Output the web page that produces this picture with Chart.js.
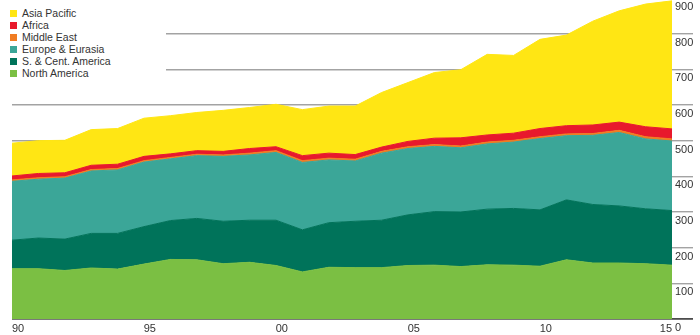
<!DOCTYPE html>
<html lang="en">
<head>
    <meta charset="UTF-8">
    <title>Production by region</title>
    <script src="https://cdn.jsdelivr.net/npm/chart.js"></script>
    <style>
        body {
            margin: 0;
            padding: 0;
            background: #fff;
            font-family: "Liberation Sans", Arial, sans-serif;
        }
        .wrap {
            position: relative;
            width: 700px;
            height: 335px;
            overflow: hidden;
        }
        #chart {
            position: absolute;
            left: 0;
            top: -2px; /* lets the 900 line sit just above the picture */
        }
        .legend {
            position: absolute;
            left: 0;
            top: 0;
            width: 166px;
            height: 88px;
            background: #fff; /* hides the grid lines behind the legend */
            padding-top: 7px;
            box-sizing: border-box;
        }
        .legend div {
            height: 12px;
            line-height: 12px;
            font-size: 10.5px;
            color: #333;
            padding-left: 22px;
            position: relative;
            white-space: nowrap;
        }
        .legend span {
            position: absolute;
            left: 10px;
            top: 2.5px;
            width: 7px;
            height: 7px;
        }
    </style>
</head>
<body>
<div class="wrap">
    <canvas id="chart" width="700" height="337"></canvas>
    <div class="legend" id="legend"></div>
</div>
<script>
    // years on the x axis
    const years = [1990, 1991, 1992, 1993, 1994, 1995, 1996, 1997, 1998, 1999,
                   2000, 2001, 2002, 2003, 2004, 2005, 2006, 2007, 2008, 2009,
                   2010, 2011, 2012, 2013, 2014, 2015];

    // values, bottom layer first
    const northAmerica = [141, 141, 136, 143, 140, 154, 167, 166, 155, 159,
                          150, 132, 145, 144, 144, 150, 151, 147, 152, 151,
                          148, 166, 157, 157, 155, 151];
    const southCentAmerica = [80, 86, 88, 97, 100, 105, 109, 116, 119, 118,
                              127, 118, 125, 130, 133, 142, 150, 153, 156, 159,
                              158, 168, 164, 160, 154, 153];
    const europeEurasia = [165, 165, 171, 175, 178, 181, 173, 176, 182, 183,
                           190, 189, 176, 169, 188, 186, 183, 180, 183, 186,
                           200, 180, 194, 206, 196, 195];
    const middleEast = [4, 4, 4, 4, 4, 4, 4, 4, 4, 5,
                        5, 5, 5, 5, 5, 5, 5, 5, 5, 5,
                        5, 5, 5, 6, 6, 6];
    const africa = [11, 12, 11, 12, 12, 12, 10, 10, 10, 13,
                    11, 14, 14, 13, 12, 15, 18, 23, 20, 20,
                    23, 23, 24, 23, 28, 28];
    const asiaPacific = [92, 92, 91, 100, 100, 107, 107, 107, 115, 115,
                         119, 129, 132, 136, 153, 165, 184, 191, 226, 218,
                         250, 254, 291, 312, 344, 359];

    // tick labels
    const xTickYears = [1990, 1995, 2000, 2005, 2010, 2015];
    const xTickLabels = ['90', '95', '00', '05', '10', '15'];
    const yTicks = [0, 100, 200, 300, 400, 500, 600, 700, 800, 900];

    const series = [
        { label: 'North America', values: northAmerica, color: '#7bbf43' },
        { label: 'S. & Cent. America', values: southCentAmerica, color: '#00735a' },
        { label: 'Europe & Eurasia', values: europeEurasia, color: '#3ba698' },
        { label: 'Middle East', values: middleEast, color: '#f07c22' },
        { label: 'Africa', values: africa, color: '#e8192c' },
        { label: 'Asia Pacific', values: asiaPacific, color: '#ffe614' }
    ];

    Chart.defaults.font.family = '"Liberation Sans", Arial, sans-serif';

    const chart = new Chart(document.getElementById('chart'), {
        type: 'line',
        data: {
            datasets: series.map((s, i) => ({
                label: s.label,
                data: years.map((yr, k) => ({ x: yr, y: s.values[k] })),
                backgroundColor: s.color,
                borderColor: s.color,
                borderWidth: 1,
                pointRadius: 0,
                tension: 0,
                fill: i === 0 ? 'origin' : '-1'
            }))
        },
        options: {
            responsive: false,
            animation: false,
            layout: { padding: { left: 12, right: 0, top: 0, bottom: 0 } },
            plugins: {
                legend: { display: false },
                tooltip: { enabled: false }
            },
            scales: {
                x: {
                    type: 'linear',
                    min: years[0],
                    max: years[years.length - 1],
                    grid: { display: false, drawTicks: false },
                    border: { display: false },
                    afterBuildTicks: axis => {
                        const n = xTickYears.length;
                        // middle labels sit a little right of their year
                        axis.ticks = xTickYears.map((yr, i) => ({
                            value: (i > 0 && i < n - 1) ? yr + 0.22 : yr
                        }));
                    },
                    afterFit: axis => { axis.height = 16; },
                    ticks: {
                        autoSkip: false,
                        maxRotation: 0,
                        align: 'inner',
                        padding: 3,
                        color: '#333',
                        font: { size: 11 },
                        callback: (value, index) => xTickLabels[index]
                    }
                },
                y: {
                    position: 'right',
                    stacked: true,
                    min: 0,
                    max: 900,
                    afterBuildTicks: axis => {
                        axis.ticks = yTicks.map(v => ({ value: v }));
                    },
                    afterFit: axis => { axis.width = 28; },
                    border: { display: false },
                    grid: {
                        drawTicks: true,
                        tickLength: 21,
                        color: ctx => ctx.tick && ctx.tick.value === 0 ? '#4d4d4d' : '#a3a3a3',
                        lineWidth: ctx => ctx.tick && ctx.tick.value === 0 ? 1.8 : 1.4
                    },
                    ticks: {
                        padding: -18,
                        labelOffset: 9,
                        color: '#333',
                        font: { size: 11 }
                    }
                }
            }
        }
    });

    // legend, top layer first like the original
    const legend = document.getElementById('legend');
    series.slice().reverse().forEach(s => {
        const row = document.createElement('div');
        row.innerHTML = '<span style="background:' + s.color + '"></span>' + s.label;
        legend.appendChild(row);
    });
</script>
</body>
</html>
